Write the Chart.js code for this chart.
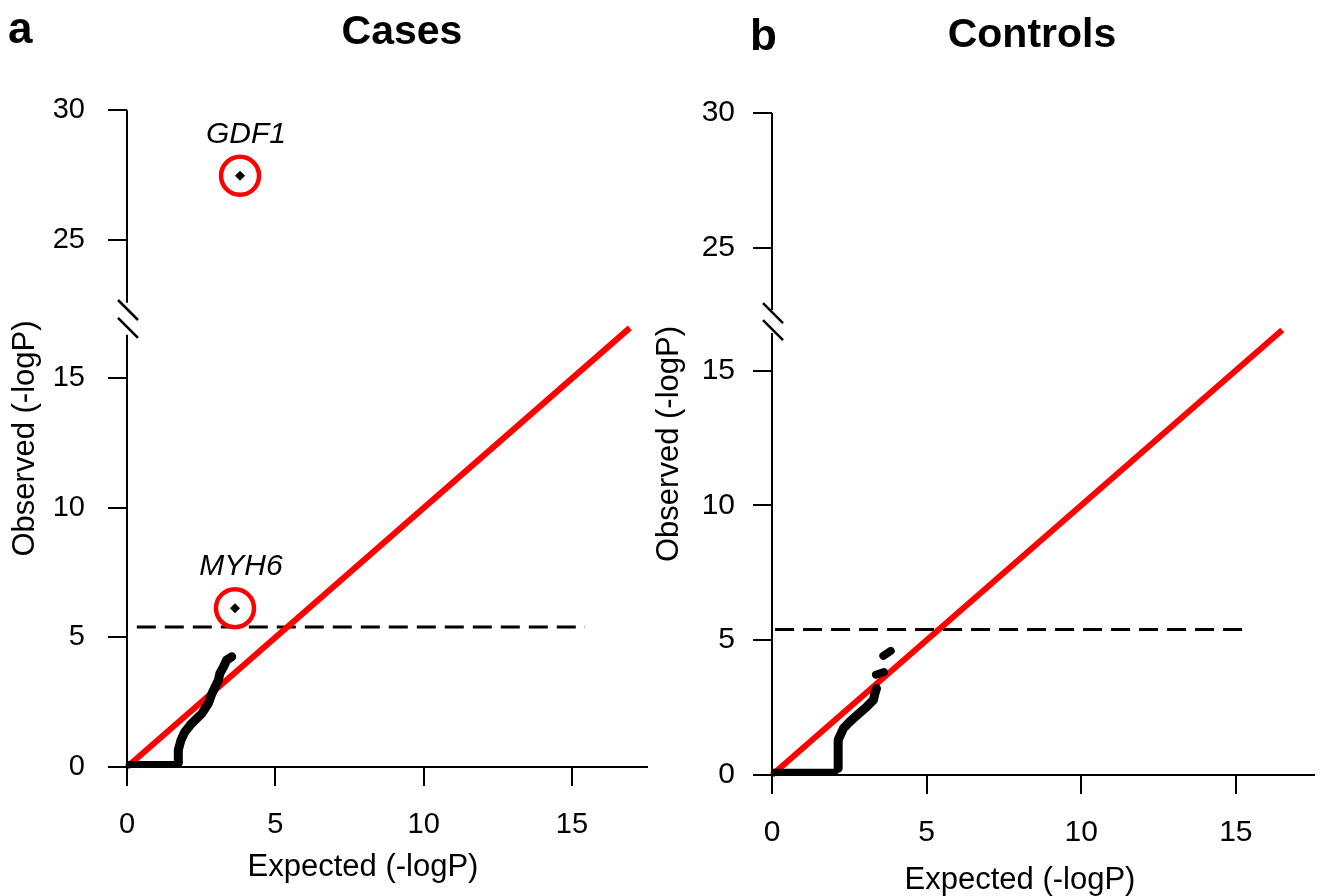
<!DOCTYPE html>
<html>
<head>
<meta charset="utf-8">
<title>QQ plots: cases and controls</title>
<script src="https://cdn.jsdelivr.net/npm/chart.js@4.4.1/dist/chart.umd.min.js"></script>
<style>
  html, body { margin: 0; padding: 0; background: #fff; }
  #wrap { position: relative; width: 1323px; height: 896px; overflow: hidden;
          font-family: "Liberation Sans", Arial, Helvetica, sans-serif; color: #000; }
  .layer { position: absolute; left: 0; top: 0; width: 1323px; height: 896px; }
  .tag { position: absolute; font-weight: bold; line-height: 1; white-space: nowrap; }
  .letter { font-size: 44px; }
  .head { font-size: 41px; width: 300px; text-align: center; }
</style>
</head>
<body>
<div id="wrap">
  <div class="layer"><canvas id="cases"></canvas></div>
  <div class="layer"><canvas id="controls"></canvas></div>
  <div class="tag letter" style="left:8px; top:6px;">a</div>
  <div class="tag head" style="left:252px; top:10px;">Cases</div>
  <div class="tag letter" style="left:750px; top:13px;">b</div>
  <div class="tag head" style="left:882px; top:13px;">Controls</div>
</div>
<script>
// tick labels
const xTickLabels = [0, 5, 10, 15];
const yTickLabels = [0, 5, 10, 15, 25, 30];
const threshold = 5.4;
const axisEnd = 17.56;

// cases
const caseBaseExp = [0, 1.73];
const caseBaseObs = [0.12, 0.12];
const caseExp = [1.73, 1.73, 1.82, 1.95, 2.18, 2.52, 2.74, 2.86, 2.97, 3.08, 3.13, 3.25, 3.36, 3.53];
const caseObs = [0.15, 0.66, 1.04, 1.36, 1.68, 2.06, 2.45, 2.83, 3.09, 3.35, 3.61, 3.86, 4.13, 4.26];
const caseGenes = ["MYH6", "GDF1"];
const caseGeneExp = [3.64, 3.81];
const caseGeneObs = [6.13, 27.46];
const caseDiag = [0, 16.95];
const caseThreshExp = [0.33, 15.44];

// controls
const ctrlBaseExp = [0, 2.14];
const ctrlBaseObs = [0.12, 0.12];
const ctrlExp = [2.14, 2.14, 2.31, 2.52, 2.79, 3.06, 3.28, 3.33, 3.38];
const ctrlObs = [0.25, 1.3, 1.73, 1.98, 2.26, 2.53, 2.78, 3.03, 3.21];
const ctrlTopExp = [[3.36, 3.62], [3.6, 3.84]];
const ctrlTopObs = [[3.72, 3.82], [4.42, 4.6]];
const ctrlDiag = [0, 16.5];
const ctrlThreshExp = [0.1, 15.23];

const FONT = "'Liberation Sans', Arial, Helvetica, sans-serif";
Chart.defaults.font.family = FONT;
Chart.defaults.color = "#000";

const pts = (xs, ys, gap) => xs.map((x, i) => ({ x, y: ys[i] > 20 ? ys[i] - gap : ys[i] }));

// axis lines with the break, and gene names
const decor = {
  id: "qqDecor",
  afterDatasetsDraw(chart, args, o) {
    const { ctx, chartArea, scales: { x, y } } = chart;
    const ax = chartArea.left;
    ctx.save();
    ctx.strokeStyle = "#000";
    ctx.lineWidth = 2;
    ctx.beginPath();
    ctx.moveTo(ax - 1, chartArea.bottom);
    ctx.lineTo(x.getPixelForValue(axisEnd), chartArea.bottom);
    ctx.moveTo(ax, y.getPixelForValue(0));
    ctx.lineTo(ax, y.getPixelForValue(o.breakLow));
    ctx.moveTo(ax, y.getPixelForValue(o.breakHigh));
    ctx.lineTo(ax, chartArea.top);
    ctx.stroke();

    ctx.lineWidth = 2.5;
    ctx.beginPath();
    o.slashes.forEach((v) => {
      const py = y.getPixelForValue(v);
      ctx.moveTo(ax - 9, py - 10);
      ctx.lineTo(ax + 11, py + 10);
    });
    ctx.stroke();

    ctx.fillStyle = "#000";
    ctx.font = "italic 30px " + FONT;
    ctx.textAlign = "center";
    ctx.textBaseline = "alphabetic";
    o.genes.forEach((g) => {
      ctx.fillText(g.text, x.getPixelForValue(g.x) + 6, y.getPixelForValue(g.y) - 33);
    });
    ctx.restore();
  },
};

function makeChart(id, p, datasets) {
  const yMax = 30 - p.gap;
  return new Chart(document.getElementById(id), {
    type: "scatter",
    data: { datasets },
    plugins: [decor],
    options: {
      responsive: true,
      maintainAspectRatio: false,
      animation: false,
      events: [],
      layout: { padding: { left: p.padLeft, right: p.padRight, top: p.padTop, bottom: 0 } },
      plugins: {
        legend: { display: false },
        tooltip: { enabled: false },
        qqDecor: {
          breakLow: p.breakLow,
          breakHigh: p.breakHigh,
          slashes: p.slashes,
          genes: p.genes,
        },
      },
      scales: {
        x: {
          type: "linear",
          min: 0,
          max: p.xMax,
          afterBuildTicks: (s) => { s.ticks = xTickLabels.map((v) => ({ value: v })); },
          afterFit: (s) => { s.height = p.xHeight; },
          ticks: {
            autoSkip: false,
            maxRotation: 0,
            padding: p.xTickPad,
            font: { size: p.tickFont },
            callback: (v, i) => String(xTickLabels[i]),
          },
          grid: { drawOnChartArea: false, drawTicks: true, tickLength: 19, color: "#000", lineWidth: 2 },
          border: { display: false },
          title: {
            display: true,
            text: "Expected (-logP)",
            font: { size: p.titleFont, lineHeight: 1 },
            padding: { top: 0, bottom: p.xTitlePad },
          },
        },
        y: {
          type: "linear",
          min: 0,
          max: yMax,
          afterBuildTicks: (s) => {
            s.ticks = yTickLabels.map((v) => ({ value: v > 20 ? v - p.gap : v }));
          },
          afterFit: (s) => { s.width = p.yWidth; },
          ticks: {
            autoSkip: false,
            padding: p.yTickPad,
            font: { size: p.tickFont },
            callback: (v, i) => String(yTickLabels[i]),
          },
          grid: { drawOnChartArea: false, drawTicks: true, tickLength: 19, color: "#000", lineWidth: 2 },
          border: { display: false },
          title: {
            display: true,
            text: "Observed (-logP)",
            font: { size: p.titleFont, lineHeight: 1 },
            padding: { top: p.yTitlePad, bottom: 0 },
          },
        },
      },
    },
  });
}

const lineSet = (data, color, width, extra) => Object.assign({
  data, showLine: true, borderColor: color, backgroundColor: color,
  borderWidth: width, pointRadius: 0, clip: false,
}, extra || {});

// panel a
const caseGap = 4.64;
const caseHits = pts(caseGeneExp, caseGeneObs, caseGap);
makeChart("cases", {
  gap: caseGap, padLeft: 0, yWidth: 127, padTop: 110, xHeight: 129, padRight: 724, xMax: 15.91,
  tickFont: 29, titleFont: 31, xTickPad: 22, yTickPad: 23, xTitlePad: 13, yTitlePad: 10,
  breakLow: 16.68, breakHigh: 17.92, slashes: [17.64, 16.95],
  genes: caseGenes.map((t, i) => ({ text: t, x: caseHits[i].x, y: caseHits[i].y })),
}, [
  lineSet(pts(caseExp, caseObs, caseGap), "#000", 9, { borderCapStyle: "round", borderJoinStyle: "round" }),
  lineSet(pts(caseBaseExp, caseBaseObs, caseGap), "#000", 6),
  { data: caseHits, pointStyle: "rectRot", pointRadius: 4.5, backgroundColor: "#000", borderColor: "#000", borderWidth: 1, clip: false },
  { data: caseHits, pointStyle: "circle", pointRadius: 19, backgroundColor: "rgba(0,0,0,0)", borderColor: "#ff0000", borderWidth: 4.5, clip: false },
  lineSet(pts(caseDiag, caseDiag, caseGap), "#ff0000", 6),
  lineSet(pts(caseThreshExp, [threshold, threshold], caseGap), "#000", 3, { borderDash: [19, 9] }),
]);

// panel b
const ctrlGap = 5.45;
makeChart("controls", {
  gap: ctrlGap, padLeft: 640, yWidth: 132, padTop: 113, xHeight: 121, padRight: 55, xMax: 16.04,
  tickFont: 30, titleFont: 31, xTickPad: 21, yTickPad: 18, xTitlePad: 0.5, yTitlePad: 13.5,
  breakLow: 16.39, breakHigh: 17.24, slashes: [17.13, 16.5],
  genes: [],
}, [
  lineSet(pts(ctrlExp, ctrlObs, ctrlGap), "#000", 9, { borderCapStyle: "round", borderJoinStyle: "round" }),
  ...ctrlTopExp.map((xs, i) => lineSet(pts(xs, ctrlTopObs[i], ctrlGap), "#000", 8, { borderCapStyle: "round" })),
  lineSet(pts(ctrlBaseExp, ctrlBaseObs, ctrlGap), "#000", 6),
  lineSet(pts(ctrlDiag, ctrlDiag, ctrlGap), "#ff0000", 6),
  lineSet(pts(ctrlThreshExp, [threshold, threshold], ctrlGap), "#000", 3, { borderDash: [19, 9] }),
]);
</script>
</body>
</html>
